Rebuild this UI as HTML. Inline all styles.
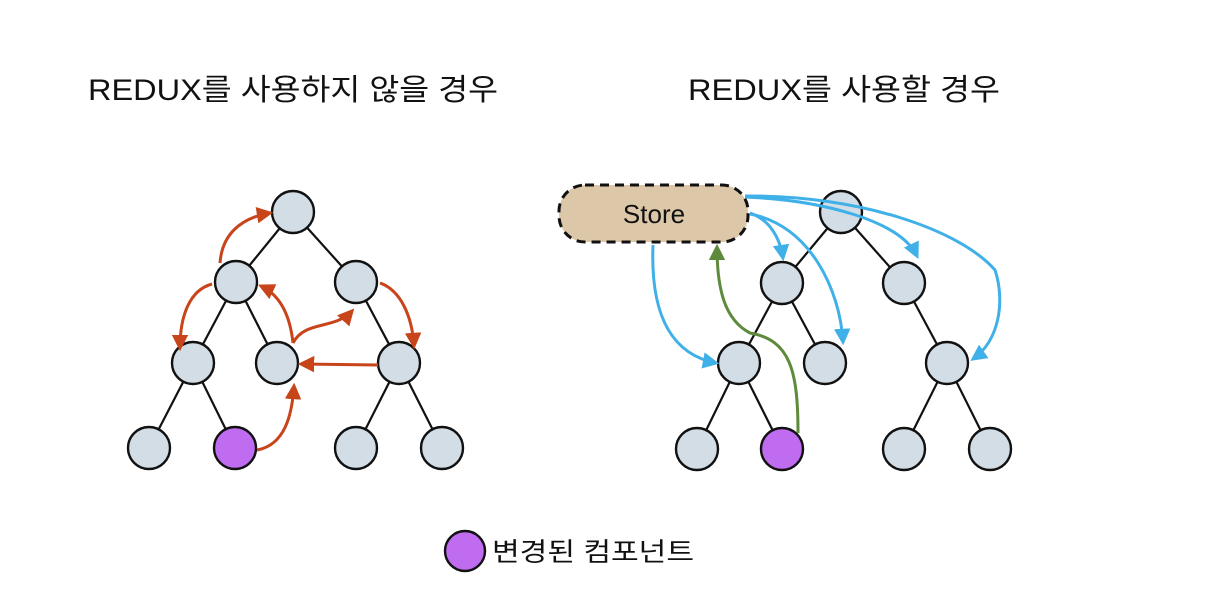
<!DOCTYPE html>
<html><head><meta charset="utf-8"><style>
html,body{margin:0;padding:0;background:#fff;}
svg{display:block;}
text{font-family:"Liberation Sans","Noto Sans CJK KR",sans-serif;fill:#111;}
</style></head><body>
<svg width="1220" height="616" viewBox="0 0 1220 616" xmlns="http://www.w3.org/2000/svg">
<defs>
<marker id="ar" viewBox="0 0 10 10" refX="8" refY="5" markerWidth="5.5" markerHeight="5.5" orient="auto"><path d="M0,0 L10,5 L0,10 z" fill="#c8441a"/></marker>
<marker id="ab" viewBox="0 0 10 10" refX="8" refY="5" markerWidth="5.5" markerHeight="5.5" orient="auto"><path d="M0,0 L10,5 L0,10 z" fill="#3fb0e8"/></marker>
<marker id="ag" viewBox="0 0 10 10" refX="8" refY="5" markerWidth="5.5" markerHeight="5.5" orient="auto"><path d="M0,0 L10,5 L0,10 z" fill="#5e8a3c"/></marker>
</defs>
<text x="88" y="100" font-size="30" textLength="410" lengthAdjust="spacingAndGlyphs">REDUX를 사용하지 않을 경우</text>
<text x="688" y="100" font-size="30" textLength="312" lengthAdjust="spacingAndGlyphs">REDUX를 사용할 경우</text>

<g stroke="#111" stroke-width="2.2">
<line x1="293" y1="212" x2="236" y2="282"/><line x1="293" y1="212" x2="356" y2="282"/>
<line x1="236" y1="282" x2="193" y2="363"/><line x1="236" y1="282" x2="277" y2="363"/>
<line x1="356" y1="282" x2="399" y2="363"/>
<line x1="193" y1="363" x2="149" y2="448"/><line x1="193" y1="363" x2="235" y2="448"/>
<line x1="399" y1="363" x2="356" y2="448"/><line x1="399" y1="363" x2="442" y2="448"/>
<line x1="841" y1="212" x2="782" y2="283"/><line x1="841" y1="212" x2="904" y2="283"/>
<line x1="782" y1="283" x2="739" y2="363"/><line x1="782" y1="283" x2="825" y2="363"/>
<line x1="904" y1="283" x2="947" y2="363"/>
<line x1="739" y1="363" x2="697" y2="449"/><line x1="739" y1="363" x2="782" y2="449"/>
<line x1="947" y1="363" x2="904" y2="449"/><line x1="947" y1="363" x2="990" y2="449"/>
</g>
<g stroke="#111" stroke-width="2.4" fill="#d3dde5">
<circle cx="293" cy="212" r="21"/><circle cx="236" cy="282" r="21"/><circle cx="356" cy="282" r="21"/>
<circle cx="193" cy="363" r="21"/><circle cx="277" cy="363" r="21"/><circle cx="399" cy="363" r="21"/>
<circle cx="149" cy="448" r="21"/><circle cx="235" cy="448" r="21" fill="#bf6cf0"/><circle cx="356" cy="448" r="21"/><circle cx="442" cy="448" r="21"/>
<circle cx="841" cy="212" r="21"/><circle cx="782" cy="283" r="21"/><circle cx="904" cy="283" r="21"/>
<circle cx="739" cy="363" r="21"/><circle cx="825" cy="363" r="21"/><circle cx="947" cy="363" r="21"/>
<circle cx="697" cy="449" r="21"/><circle cx="782" cy="449" r="21" fill="#bf6cf0"/><circle cx="904" cy="449" r="21"/><circle cx="990" cy="449" r="21"/>
</g>

<g stroke="#c8441a" stroke-width="3" fill="none" marker-end="url(#ar)">
<path d="M220,263 C222,235 240,218 270,213"/>
<path d="M212,284 C190,290 180,315 180,348"/>
<path d="M293,343 C290,315 280,295 261,286"/>
<path d="M293,343 C305,320 335,330 352,311"/>
<path d="M380,283 C400,290 412,315 414,346"/>
<path d="M378,365 L301,364"/>
<path d="M257,450 C285,445 292,415 294,386"/>
</g>

<rect x="559" y="185" width="189" height="57" rx="26" fill="#dcc8a8" stroke="#111" stroke-width="3" stroke-dasharray="9,6"/>
<text x="654" y="223" font-size="26" text-anchor="middle">Store</text>

<g stroke="#3fb0e8" stroke-width="3" fill="none" marker-end="url(#ab)">
<path d="M653,245 C650,320 675,355 716,363"/>
<path d="M750,213 C770,220 780,238 783,258"/>
<path d="M750,214 C810,225 840,290 843,342"/>
<path d="M745,197 C820,200 900,220 917,256"/>
<path d="M745,196 C860,195 960,230 995,270 C1005,300 1000,340 973,359"/>
</g>
<path d="M798,433 C798,370 790,340 750,333 C725,320 717,290 717,247" stroke="#5e8a3c" stroke-width="3" fill="none" marker-end="url(#ag)"/>

<circle cx="465" cy="551" r="20" fill="#bf6cf0" stroke="#111" stroke-width="2.4"/>
<text x="492" y="561" font-size="26" textLength="202" lengthAdjust="spacingAndGlyphs">변경된 컴포넌트</text>
</svg>
</body></html>
